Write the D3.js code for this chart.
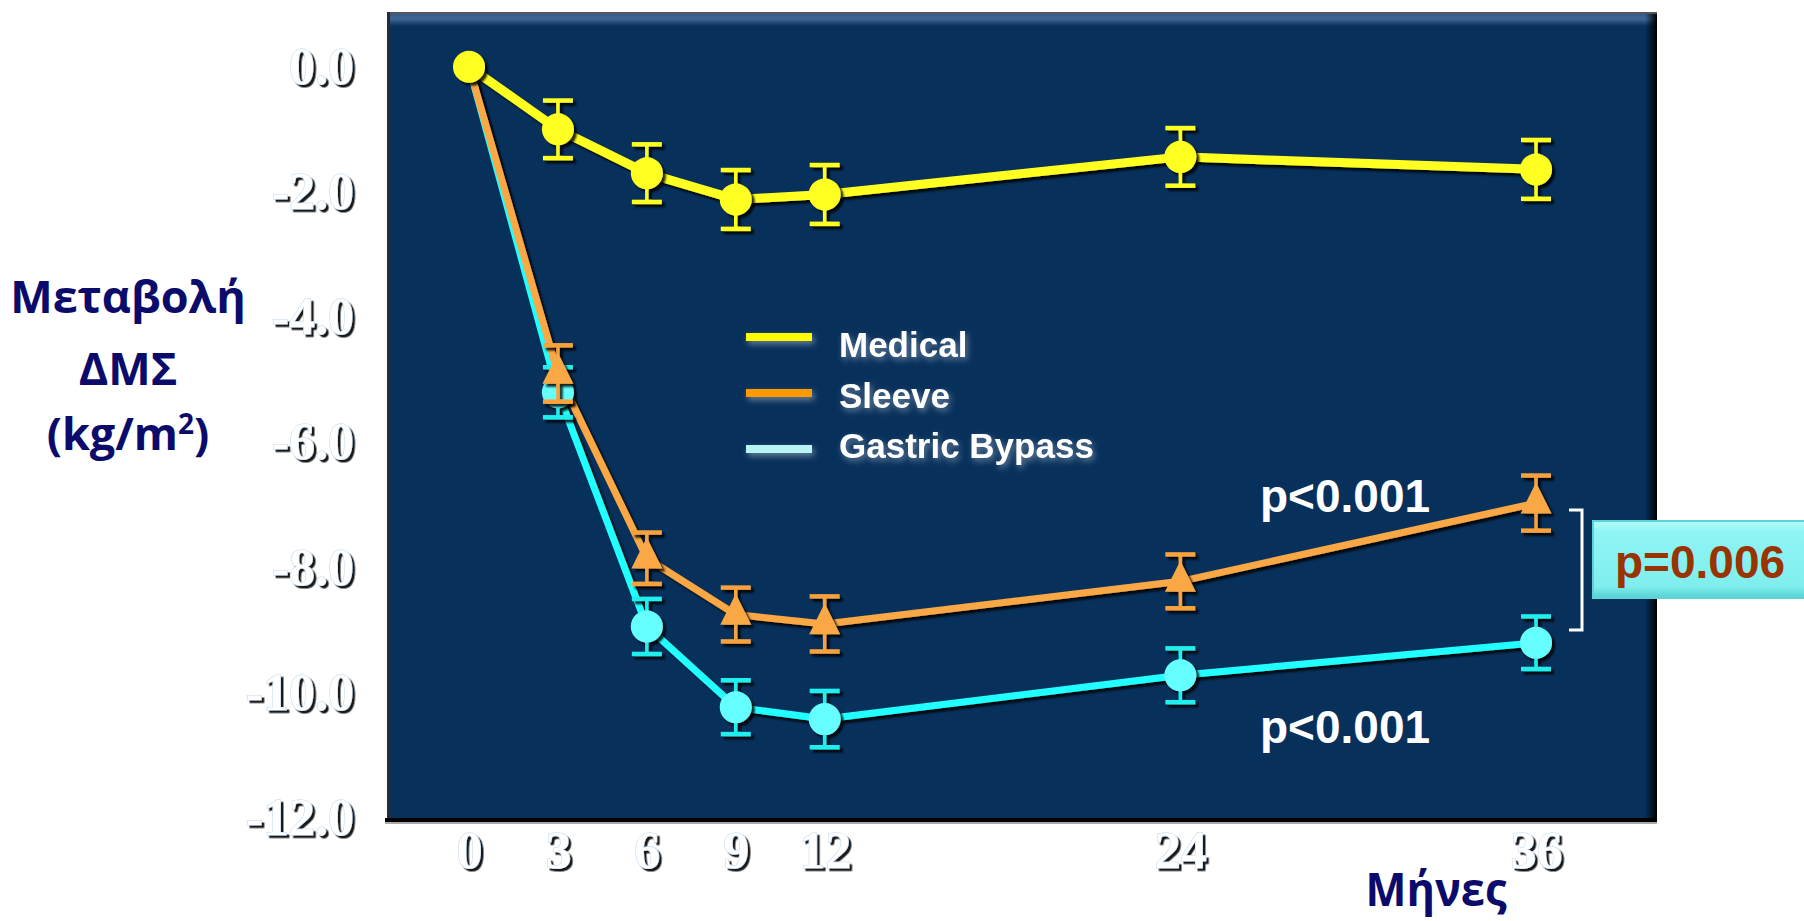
<!DOCTYPE html>
<html>
<head>
<meta charset="utf-8">
<script src="https://cdn.jsdelivr.net/npm/d3@7"></script>
<style>
  html, body { margin: 0; padding: 0; background: #fff; }
  svg { display: block; }
</style>
</head>
<body>
<main></main>
<script>
'use strict';

// months of follow-up
const months = [0, 3, 6, 9, 12, 24, 36];
const yTicks = [0, -2, -4, -6, -8, -10, -12];

// change in BMI (kg/m2), mean and error per group
const medical = [0, -1.0, -1.7, -2.12, -2.04, -1.44, -1.64];
const medicalErr = [0, 0.46, 0.46, 0.47, 0.47, 0.46, 0.47];
const sleeve = [0, -4.9, -7.85, -8.75, -8.9, -8.22, -6.97];
const sleeveErr = [0, 0.45, 0.41, 0.43, 0.44, 0.43, 0.44];
const bypass = [0, -5.2, -8.94, -10.23, -10.42, -9.72, -9.2];
const bypassErr = [0, 0.4, 0.44, 0.43, 0.45, 0.43, 0.42];

const seriesNames = ['Medical', 'Sleeve', 'Gastric Bypass'];
const pValues = ['p<0.001', 'p<0.001', 'p=0.006'];

const width = 1804,
  height = 921;

const panel = {left: 387, right: 1657, top: 12, bottom: 820};

const svg = d3.select('main')
  .append('svg')
  .attr('width', width)
  .attr('height', height);

const defs = svg.append('defs');

// filters cover a large user-space region so nothing gets clipped
const bigRegion = f => f
  .attr('filterUnits', 'userSpaceOnUse')
  .attr('x', -2000).attr('y', -2000).attr('width', 6000).attr('height', 6000);

defs.append('filter')
  .attr('id', 'shadow')
  .call(bigRegion)
  .append('feDropShadow')
  .attr('dx', 3).attr('dy', 3).attr('stdDeviation', 1.2)
  .attr('flood-color', '#000').attr('flood-opacity', 0.85);

defs.append('filter')
  .attr('id', 'emboss')
  .call(bigRegion)
  .append('feDropShadow')
  .attr('dx', 2.5).attr('dy', 2.5).attr('stdDeviation', 0.6)
  .attr('flood-color', '#000').attr('flood-opacity', 0.9);

defs.append('filter')
  .attr('id', 'glow')
  .call(bigRegion)
  .append('feDropShadow')
  .attr('dx', 2).attr('dy', 3).attr('stdDeviation', 3)
  .attr('flood-color', '#b8c4d2').attr('flood-opacity', 0.55);

const topBand = defs.append('linearGradient')
  .attr('id', 'top-band')
  .attr('x1', 0).attr('y1', 0).attr('x2', 0).attr('y2', 1);
topBand.append('stop').attr('offset', '0%').attr('stop-color', '#2f5585');
topBand.append('stop').attr('offset', '50%').attr('stop-color', '#3e6797');
topBand.append('stop').attr('offset', '100%').attr('stop-color', '#07305b');

const rightEdge = defs.append('linearGradient')
  .attr('id', 'right-edge')
  .attr('x1', 0).attr('y1', 0).attr('x2', 1).attr('y2', 0);
rightEdge.append('stop').attr('offset', '0%').attr('stop-color', '#000').attr('stop-opacity', 0);
rightEdge.append('stop').attr('offset', '100%').attr('stop-color', '#000').attr('stop-opacity', 1);

const boxFill = defs.append('linearGradient')
  .attr('id', 'box-fill')
  .attr('x1', 0).attr('y1', 0).attr('x2', 0).attr('y2', 1);
boxFill.append('stop').attr('offset', '0%').attr('stop-color', '#b4fbfb');
boxFill.append('stop').attr('offset', '15%').attr('stop-color', '#8ff4f4');
boxFill.append('stop').attr('offset', '85%').attr('stop-color', '#80eeee');
boxFill.append('stop').attr('offset', '100%').attr('stop-color', '#56cfd2');

// plot panel
svg.append('rect')
  .attr('x', panel.left)
  .attr('y', panel.top)
  .attr('width', panel.right - panel.left)
  .attr('height', panel.bottom - panel.top)
  .attr('fill', '#07305b');

svg.append('rect')
  .attr('x', panel.left)
  .attr('y', panel.top)
  .attr('width', panel.right - panel.left)
  .attr('height', 14)
  .attr('fill', 'url(#top-band)');

svg.append('rect')
  .attr('x', panel.right - 12)
  .attr('y', panel.top)
  .attr('width', 12)
  .attr('height', panel.bottom - panel.top)
  .attr('fill', 'url(#right-edge)');

svg.append('line')
  .attr('x1', panel.left).attr('x2', panel.right)
  .attr('y1', panel.top + 1).attr('y2', panel.top + 1)
  .attr('stroke', '#555').attr('stroke-width', 2);

svg.append('line')
  .attr('x1', panel.left + 1.5).attr('x2', panel.left + 1.5)
  .attr('y1', panel.top).attr('y2', panel.bottom)
  .attr('stroke', '#2b2b2b').attr('stroke-width', 3);

svg.append('line')
  .attr('x1', panel.left - 2).attr('x2', panel.right)
  .attr('y1', panel.bottom + 3).attr('y2', panel.bottom + 3)
  .attr('stroke', '#aaa').attr('stroke-width', 2);

svg.append('line')
  .attr('x1', panel.left - 2).attr('x2', panel.right)
  .attr('y1', panel.bottom).attr('y2', panel.bottom)
  .attr('stroke', '#000').attr('stroke-width', 4);

const x = d3.scaleLinear()
  .domain([0, 36])
  .range([469, 1536]);

const y = d3.scaleLinear()
  .domain([0, -12])
  .range([66.7, 818]);

// axes
const yAxis = d3.axisLeft(y)
  .tickValues(yTicks)
  .tickSize(0)
  .tickPadding(33)
  .tickFormat(d => d.toFixed(1));

const yAxisG = svg.append('g')
  .attr('transform', `translate(${panel.left}, 0)`)
  .call(yAxis);

const xAxis = d3.axisBottom(x)
  .tickValues(months)
  .tickSize(0)
  .tickPadding(11)
  .tickFormat(d3.format('d'));

const xAxisG = svg.append('g')
  .attr('transform', `translate(0, ${panel.bottom})`)
  .call(xAxis);

[yAxisG, xAxisG].forEach(g => {
  g.select('.domain').remove();
  g.selectAll('text')
    .attr('fill', '#fff')
    .attr('stroke', '#b9d3ee')
    .attr('stroke-width', 1)
    .attr('paint-order', 'stroke')
    .attr('filter', 'url(#emboss)')
    .style('font-family', '"Liberation Serif", "DejaVu Serif", serif')
    .style('font-weight', 'bold')
    .style('font-size', '52px');
});

// y-axis title
const yTitle = svg.append('text')
  .attr('text-anchor', 'middle')
  .attr('fill', '#0b0b6b')
  .style('font-family', '"Open Sans", "Noto Sans", sans-serif')
  .style('font-weight', 'bold')
  .style('font-size', '45px');

yTitle.append('tspan').attr('x', 128).attr('y', 313).text('Μεταβολή');
yTitle.append('tspan').attr('x', 128).attr('y', 385).text('ΔΜΣ');
const unit = yTitle.append('tspan').attr('x', 128).attr('y', 450);
unit.append('tspan').text('(kg/m');
unit.append('tspan').attr('dy', -16).style('font-size', '28px').text('2');
unit.append('tspan').attr('dy', 16).text(')');

// x-axis title
svg.append('text')
  .attr('x', 1436)
  .attr('y', 906)
  .attr('text-anchor', 'middle')
  .attr('fill', '#0b0b6b')
  .attr('textLength', 141)
  .attr('lengthAdjust', 'spacingAndGlyphs')
  .style('font-family', '"Open Sans", "Noto Sans", sans-serif')
  .style('font-weight', 'bold')
  .style('font-size', '46px')
  .text('Μήνες');

// legend
const legendColors = ['#ffff00', '#ff9900', '#b8f4f4'];
const legend = svg.append('g')
  .attr('transform', 'translate(746, 337)');

legend.selectAll('rect')
  .data(seriesNames)
  .enter()
  .append('rect')
  .attr('x', 0)
  .attr('y', (d, i) => i * 56 - 4)
  .attr('width', 66)
  .attr('height', 8)
  .attr('fill', (d, i) => legendColors[i])
  .attr('filter', 'url(#glow)');

legend.selectAll('text')
  .data(seriesNames)
  .enter()
  .append('text')
  .attr('x', 93)
  .attr('y', (d, i) => 20 + i * 50.5)
  .attr('fill', '#fff')
  .attr('filter', 'url(#glow)')
  .style('font-family', '"Liberation Sans", Arial, sans-serif')
  .style('font-weight', 'bold')
  .style('font-size', '35px')
  .text(d => d);

// series
const series = [
  {name: 'Gastric Bypass', values: bypass, err: bypassErr, line: '#22ffff', marker: '#66ffff', bar: '#22eeee', shape: 'circle'},
  {name: 'Sleeve', values: sleeve, err: sleeveErr, line: '#f9a845', marker: '#f9a845', bar: '#f7a23e', shape: 'triangle'},
  {name: 'Medical', values: medical, err: medicalErr, line: '#ffff22', marker: '#ffff22', bar: '#ffff22', shape: 'circle'}
];

const line = d3.line()
  .x(d => x(d.month))
  .y(d => y(d.value));

const pointsOf = s => months.map((m, i) => ({month: m, value: s.values[i], err: s.err[i]}));

svg.append('g')
  .selectAll('path')
  .data(series)
  .enter()
  .append('path')
  .attr('d', s => line(pointsOf(s)))
  .attr('fill', 'none')
  .attr('stroke', s => s.line)
  .attr('stroke-width', s => s.name === 'Medical' ? 9 : 7)
  .attr('stroke-linejoin', 'round')
  .attr('filter', 'url(#shadow)');

const capHalf = 15;
const triangle = d3.symbol(d3.symbolTriangle).size(460)();

series.forEach(s => {
  const pts = pointsOf(s).filter(d => d.err > 0 || s.name === 'Medical');
  const g = svg.append('g').attr('filter', 'url(#shadow)');

  const bars = g.selectAll('g.bar')
    .data(pts.filter(d => d.err > 0))
    .enter()
    .append('g')
    .attr('class', 'bar')
    .attr('stroke', s.bar);

  bars.append('line')
    .attr('x1', d => x(d.month)).attr('x2', d => x(d.month))
    .attr('y1', d => y(d.value + d.err)).attr('y2', d => y(d.value - d.err))
    .attr('stroke-width', 3.5);

  [1, -1].forEach(sign => {
    bars.append('line')
      .attr('x1', d => x(d.month) - capHalf).attr('x2', d => x(d.month) + capHalf)
      .attr('y1', d => y(d.value + sign * d.err)).attr('y2', d => y(d.value + sign * d.err))
      .attr('stroke-width', 4.5);
  });

  if (s.shape === 'circle') {
    g.selectAll('circle')
      .data(pts)
      .enter()
      .append('circle')
      .attr('cx', d => x(d.month))
      .attr('cy', d => y(d.value))
      .attr('r', 16)
      .attr('fill', s.marker);
  } else {
    g.selectAll('path.marker')
      .data(pts)
      .enter()
      .append('path')
      .attr('class', 'marker')
      .attr('d', triangle)
      .attr('transform', d => `translate(${x(d.month)}, ${y(d.value)}) scale(0.95, 1.1)`)
      .attr('fill', s.marker);
  }
});

// significance annotations
const pStyle = sel => sel
  .style('font-family', '"Liberation Sans", Arial, sans-serif')
  .style('font-weight', 'bold')
  .style('font-size', '46px');

svg.append('text')
  .attr('x', 1260)
  .attr('y', 512)
  .attr('fill', '#fff')
  .call(pStyle)
  .text(pValues[0]);

svg.append('text')
  .attr('x', 1260)
  .attr('y', 743)
  .attr('fill', '#fff')
  .call(pStyle)
  .text(pValues[1]);

svg.append('path')
  .attr('d', 'M1569,510 H1582 V630 H1569')
  .attr('fill', 'none')
  .attr('stroke', '#fff')
  .attr('stroke-width', 3);

svg.append('rect')
  .attr('x', 1593)
  .attr('y', 521)
  .attr('width', 230)
  .attr('height', 77)
  .attr('fill', 'url(#box-fill)')
  .attr('stroke', '#5cd3d6')
  .attr('stroke-width', 2);

svg.append('text')
  .attr('x', 1615)
  .attr('y', 578)
  .attr('fill', '#993300')
  .call(pStyle)
  .text(pValues[2]);
</script>
</body>
</html>
